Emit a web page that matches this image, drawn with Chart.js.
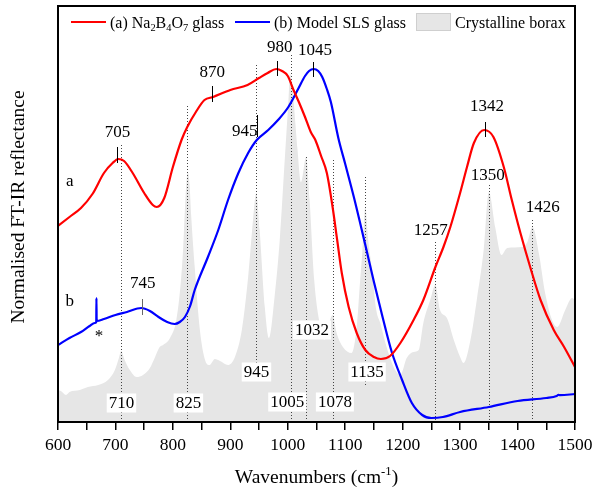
<!DOCTYPE html>
<html>
<head>
<meta charset="utf-8">
<script src="https://cdn.jsdelivr.net/npm/chart.js@4.4.1/dist/chart.umd.min.js"></script>
<style>
    body { margin: 0; background: #fff; }
</style>
</head>
<body>
<canvas id="ftirChart" width="593" height="494"></canvas>
<script>
// Espectros (número de onda em cm-1, reflectância normalizada em unidades arbitrárias)
const xTickValues = [600, 700, 800, 900, 1000, 1100, 1200, 1300, 1400, 1500];

const naBoraxWavenumbers = [600, 620, 640, 660, 680, 695, 705, 715, 730, 750, 765, 772, 785, 800, 815, 825, 840, 855, 870, 900, 930, 950, 965, 980, 990, 1000, 1010, 1020, 1030, 1040, 1048, 1058, 1068, 1078, 1086, 1094, 1106, 1120, 1135, 1150, 1162, 1178, 1196, 1219, 1236, 1257, 1271, 1283, 1300, 1312, 1324, 1342, 1358, 1376, 1390, 1405, 1422, 1440, 1463, 1481, 1500];
const naBoraxValues = [196, 205, 214, 228, 249, 259, 263, 261, 249, 229, 217, 215, 224, 255, 282, 295, 310, 322, 325, 332, 337, 344, 349, 353, 351, 346, 332, 319, 305, 290, 282, 266, 249, 215, 182, 149, 115, 89, 72, 65, 63, 66, 79, 102, 122, 155, 175, 195, 229, 255, 279, 292, 285, 255, 222, 189, 155, 122, 92, 75, 55];

const slsWavenumbers = [600, 620, 640, 655, 664, 666.6, 666.9, 667.3, 680, 700, 720, 745, 760, 775, 790, 803, 812, 821, 830, 838, 861, 879, 896, 914, 931, 946, 966, 983, 1001, 1018, 1030, 1037, 1045, 1053, 1060, 1068, 1075, 1088, 1100, 1115, 1135, 1150, 1165, 1181, 1199, 1216, 1234, 1250, 1270, 1300, 1350, 1400, 1450, 1468, 1471, 1474, 1500];
const slsValues = [77, 84, 90, 96, 99, 100, 124, 101, 103, 107, 110, 114, 111, 105, 100, 98, 100, 105, 116, 132, 165, 192, 222, 249, 269, 282, 292, 302, 315, 333, 346, 351, 353, 351, 345, 333, 320, 284, 258, 225, 177, 140, 105, 70, 42, 19, 7, 4, 5, 10, 15, 21, 24, 26, 27.2, 26.8, 28];

const crystalWavenumbers = [600, 605, 614, 620, 638, 652, 670, 687, 699, 706, 710, 716, 725, 737, 748, 760, 769, 777, 783, 795, 806, 813, 818, 822, 826, 829, 832, 838, 847, 856, 864, 873, 882, 896, 908, 920, 931, 940, 945, 951, 960, 967, 977, 986, 995, 1001, 1004, 1008, 1011, 1017, 1023, 1032, 1038, 1046, 1058, 1064, 1071, 1078, 1085, 1096, 1111, 1120, 1126, 1130, 1135, 1140, 1146, 1154, 1161, 1172, 1187, 1196, 1207, 1219, 1228, 1236, 1248, 1257, 1265, 1277, 1289, 1300, 1306, 1318, 1329, 1341, 1350, 1361, 1372, 1382, 1408, 1417, 1426, 1437, 1448, 1460, 1469, 1483, 1495, 1500];
const crystalValues = [32, 31, 27, 30, 32, 35, 37, 42, 52, 64, 71, 62, 52, 45, 47, 54, 65, 75, 77, 84, 102, 135, 175, 225, 250, 238, 205, 155, 92, 62, 57, 63, 61, 57, 65, 92, 145, 205, 229, 192, 115, 84, 125, 182, 265, 320, 348, 335, 315, 272, 240, 265, 222, 142, 92, 82, 97, 107, 89, 75, 69, 95, 142, 172, 215, 182, 155, 112, 99, 75, 52, 47, 64, 70, 72, 99, 122, 137, 112, 104, 82, 65, 59, 82, 122, 172, 230, 195, 167, 174, 175, 180, 195, 169, 129, 102, 95, 112, 124, 122];

// Linhas pontilhadas das bandas do borax cristalino
const crystalBands = [
    { wn: 710, top: 277, bottom: 0, label: '710', labelWn: 710.5, labelY: 19, box: true },
    { wn: 825, top: 316, bottom: 0, label: '825', labelWn: 827, labelY: 19, box: true },
    { wn: 945, top: 357, bottom: 39, label: '945', labelWn: 945.5, labelY: 50, box: true },
    { wn: 1005, top: 367, bottom: 0, label: '1005', labelWn: 999, labelY: 20, box: true },
    { wn: 1032, top: 265, bottom: 0, label: '1032', labelWn: 1042, labelY: 92, box: true },
    { wn: 1078, top: 262, bottom: 0, label: '1078', labelWn: 1082, labelY: 20, box: true },
    { wn: 1135, top: 245, bottom: 37, label: '1135', labelWn: 1138, labelY: 50, box: true },
    { wn: 1257, top: 180, bottom: 0, label: '1257', labelWn: 1249, labelY: 192, box: false },
    { wn: 1350, top: 237, bottom: 0, label: '1350', labelWn: 1348, labelY: 247, box: false },
    { wn: 1426, top: 202, bottom: 0, label: '1426', labelWn: 1444, labelY: 215, box: false }
];

// Marcas dos picos das curvas (a) e (b)
const peakMarks = [
    { wn: 703.5, top: 275, bottom: 259, label: '705', labelWn: 703.5, labelY: 290, color: '#000' },
    { wn: 868, top: 336, bottom: 320, label: '870', labelWn: 868.5, labelY: 350, color: '#000' },
    { wn: 981.8, top: 361, bottom: 346, label: '980', labelWn: 986, labelY: 375, color: '#000' },
    { wn: 945.9, top: 307, bottom: 285, label: '945', labelWn: 945.9, labelY: 291, color: '#000', align: 'right' },
    { wn: 1044.6, top: 360, bottom: 345, label: '1045', labelWn: 1047.5, labelY: 372, color: '#000' },
    { wn: 1342.7, top: 300, bottom: 285, label: '1342', labelWn: 1346.9, labelY: 316, color: '#000' },
    { wn: 745.4, top: 123, bottom: 107, label: '745', labelWn: 747.7, labelY: 139, color: '#666' }
];

const SERIF = '"Liberation Serif", "Times New Roman", serif';

function toPoints(xs, ys) {
    return xs.map((x, i) => ({ x: x, y: ys[i] }));
}

// Texto com sub/sobrescritos: partes [texto, modo]
function richWidth(ctx, parts, size) {
    let w = 0;
    parts.forEach(([t, mode]) => {
        ctx.font = (mode ? size * 0.65 : size) + 'px ' + SERIF;
        w += ctx.measureText(t).width;
    });
    return w;
}

function drawRich(ctx, parts, x, y, size) {
    let cx = x;
    ctx.textAlign = 'left';
    ctx.textBaseline = 'alphabetic';
    parts.forEach(([t, mode]) => {
        ctx.font = (mode ? size * 0.65 : size) + 'px ' + SERIF;
        let dy = 0;
        if (mode === 'sub') dy = size * 0.24;
        if (mode === 'sup') dy = -size * 0.4;
        ctx.fillText(t, cx, y + dy);
        cx += ctx.measureText(t).width;
    });
}

const annotationsPlugin = {
    id: 'ftirAnnotations',
    afterDatasetDraw(chart, args) {
        if (args.index !== 2) return;
        const ctx = chart.ctx;
        const xs = chart.scales.x, ys = chart.scales.y;
        ctx.save();
        ctx.strokeStyle = '#444';
        ctx.lineWidth = 1;
        ctx.setLineDash([1, 2]);
        crystalBands.forEach(b => {
            const px = Math.round(xs.getPixelForValue(b.wn)) + 0.5;
            ctx.beginPath();
            ctx.moveTo(px, ys.getPixelForValue(b.top));
            ctx.lineTo(px, ys.getPixelForValue(b.bottom));
            ctx.stroke();
        });
        ctx.setLineDash([]);
        ctx.font = '17px ' + SERIF;
        ctx.textAlign = 'center';
        ctx.textBaseline = 'middle';
        crystalBands.forEach(b => {
            const cx = xs.getPixelForValue(b.labelWn);
            const cy = ys.getPixelForValue(b.labelY);
            if (b.box) {
                const w = ctx.measureText(b.label).width;
                ctx.fillStyle = '#fff';
                ctx.fillRect(cx - w / 2 - 2, cy - 9.5, w + 4, 19);
            }
            ctx.fillStyle = '#000';
            ctx.fillText(b.label, cx, cy + 1);
        });
        ctx.restore();
    },
    afterDraw(chart) {
        const ctx = chart.ctx;
        const area = chart.chartArea;
        const xs = chart.scales.x, ys = chart.scales.y;
        ctx.save();

        // Moldura
        ctx.strokeStyle = '#000';
        ctx.lineWidth = 2;
        ctx.strokeRect(area.left, area.top, area.right - area.left, area.bottom - area.top);

        // Marcas de pico
        ctx.lineWidth = 1;
        peakMarks.forEach(p => {
            const px = Math.round(xs.getPixelForValue(p.wn)) + 0.5;
            ctx.strokeStyle = p.color;
            ctx.beginPath();
            ctx.moveTo(px, ys.getPixelForValue(p.top));
            ctx.lineTo(px, ys.getPixelForValue(p.bottom));
            ctx.stroke();
            ctx.fillStyle = '#000';
            ctx.font = '17px ' + SERIF;
            ctx.textBaseline = 'middle';
            if (p.align === 'right') {
                ctx.textAlign = 'right';
                ctx.fillText(p.label, px, ys.getPixelForValue(p.labelY) + 1);
            } else {
                ctx.textAlign = 'center';
                ctx.fillText(p.label, xs.getPixelForValue(p.labelWn), ys.getPixelForValue(p.labelY) + 1);
            }
        });

        // Rótulos a, b e *
        ctx.font = '17px ' + SERIF;
        ctx.textAlign = 'center';
        ctx.textBaseline = 'middle';
        ctx.fillText('a', xs.getPixelForValue(620.4), ys.getPixelForValue(240));
        ctx.fillText('b', xs.getPixelForValue(620.4), ys.getPixelForValue(120));
        ctx.fillText('*', xs.getPixelForValue(671.5), ys.getPixelForValue(85));

        // Legenda
        ctx.lineWidth = 2.2;
        ctx.strokeStyle = '#ff0000';
        ctx.beginPath(); ctx.moveTo(71, 22); ctx.lineTo(106, 22); ctx.stroke();
        ctx.fillStyle = '#000';
        drawRich(ctx, [['(a) Na', ''], ['2', 'sub'], ['B', ''], ['4', 'sub'], ['O', ''], ['7', 'sub'], [' glass', '']], 110, 27.5, 16);
        ctx.strokeStyle = '#0000ff';
        ctx.beginPath(); ctx.moveTo(235, 22); ctx.lineTo(270, 22); ctx.stroke();
        drawRich(ctx, [['(b) Model SLS glass', '']], 274, 27.5, 16);
        ctx.fillStyle = '#e6e6e6';
        ctx.fillRect(416, 13.5, 35, 17);
        ctx.strokeStyle = '#cfcfcf';
        ctx.lineWidth = 1;
        ctx.strokeRect(416.5, 13.5, 34, 17);
        ctx.fillStyle = '#000';
        drawRich(ctx, [['Crystalline borax', '']], 455, 27.5, 16);

        // Títulos dos eixos
        const xTitle = [['Wavenumbers (cm', ''], ['-1', 'sup'], [')', '']];
        const w = richWidth(ctx, xTitle, 19.5);
        drawRich(ctx, xTitle, (area.left + area.right) / 2 - w / 2, 483, 19.5);

        ctx.translate(19, 207);
        ctx.rotate(-Math.PI / 2);
        ctx.font = '19.5px ' + SERIF;
        ctx.textAlign = 'center';
        ctx.textBaseline = 'middle';
        ctx.fillText('Normalised FT-IR reflectance', 0, 0);
        ctx.restore();
    }
};

const ctx = document.getElementById('ftirChart').getContext('2d');
window.myChart = new Chart(ctx, {
    type: 'line',
    data: {
        datasets: [
            {
                label: '(a) Na2B4O7 glass',
                data: toPoints(naBoraxWavenumbers, naBoraxValues),
                borderColor: '#ff0000',
                borderWidth: 2.2,
                pointRadius: 0,
                fill: false,
                cubicInterpolationMode: 'monotone'
            },
            {
                label: '(b) Model SLS glass',
                data: toPoints(slsWavenumbers, slsValues),
                borderColor: '#0000ff',
                borderWidth: 2.2,
                pointRadius: 0,
                fill: false,
                cubicInterpolationMode: 'monotone'
            },
            {
                label: 'Crystalline borax',
                data: toPoints(crystalWavenumbers, crystalValues),
                borderColor: 'rgba(0,0,0,0)',
                borderWidth: 0,
                backgroundColor: '#e6e6e6',
                pointRadius: 0,
                fill: 'start',
                cubicInterpolationMode: 'monotone'
            }
        ]
    },
    options: {
        responsive: false,
        animation: false,
        devicePixelRatio: 1,
        layout: { padding: { left: 58, top: 6, right: 18, bottom: 0 } },
        plugins: {
            legend: { display: false },
            tooltip: { enabled: false }
        },
        scales: {
            x: {
                type: 'linear',
                min: 600,
                max: 1500,
                afterFit: function(scale) {
                    scale.height = 72;
                    scale.paddingLeft = 0;
                    scale.paddingRight = 0;
                },
                border: { display: true, color: '#000', width: 2 },
                grid: {
                    display: true,
                    drawOnChartArea: false,
                    drawTicks: true,
                    tickLength: 8,
                    color: '#000',
                    tickColor: '#000',
                    lineWidth: 1.5
                },
                ticks: {
                    stepSize: 50,
                    autoSkip: false,
                    maxRotation: 0,
                    padding: 5,
                    color: '#000',
                    font: { family: SERIF, size: 17.5 },
                    callback: function(value) {
                        return xTickValues.includes(value) ? String(value) : '';
                    }
                }
            },
            y: {
                type: 'linear',
                display: false,
                min: 0,
                max: 416
            }
        }
    },
    plugins: [annotationsPlugin]
});
</script>
</body>
</html>
